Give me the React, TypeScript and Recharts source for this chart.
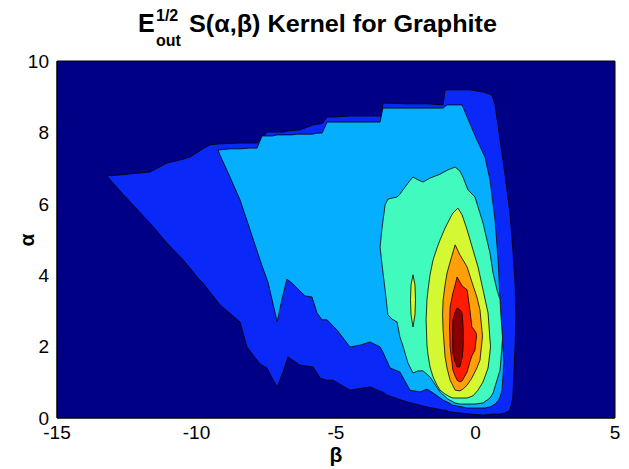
import React from 'react';
import { ComposedChart, Area, XAxis, YAxis, CartesianGrid, ReferenceArea } from 'recharts';

// Filled contour bands of the kernel, outermost first.
// Each row: [beta, alpha at lower edge, alpha at upper edge]
type Row = [number, number, number];

const band1: Row[] = [
  [-13.21, 6.78, 6.78], [-12.74, 6.36, 6.81], [-11.67, 5.46, 6.89], [-11.06, 4.9, 7.14],
  [-10.48, 4.43, 7.25], [-10.23, 4.2, 7.31], [-9.95, 3.92, 7.45], [-9.77, 3.78, 7.54],
  [-9.52, 3.53, 7.65], [-9.16, 3.17, 7.68], [-8.44, 2.69, 7.7], [-8.19, 1.99, 7.7],
  [-7.83, 1.62, 7.7], [-7.72, 1.51, 7.79], [-7.47, 1.4, 8.01], [-7.29, 1.12, 8.01],
  [-7.11, 0.87, 8.01], [-6.9, 1.29, 8.01], [-6.72, 1.71, 8.04], [-6.29, 1.48, 8.07],
  [-5.82, 1.43, 8.21], [-5.57, 1.12, 8.24], [-5.47, 1.09, 8.26], [-5.32, 1.06, 8.43],
  [-5.11, 1.06, 8.43], [-4.5, 0.78, 8.46], [-3.78, 0.87, 8.46], [-3.35, 0.73, 8.46],
  [-3.32, 0.73, 8.82], [-3.17, 0.64, 8.82], [-2.46, 0.45, 8.8], [-1.74, 0.31, 8.8],
  [-1.16, 0.22, 8.77], [-1.09, 0.22, 9.19], [-0.91, 0.17, 9.19], [-0.2, 0.11, 9.19],
  [0.27, 0.08, 9.13], [0.59, 0.11, 9.05], [0.7, 0.11, 8.77], [0.88, 0.11, 7.79],
  [1.06, 0.14, 6.81], [1.24, 0.22, 5.69], [1.34, 0.59, 4.71], [1.42, 2.04, 3.73],
  [1.45, 2.89, 2.89],
];

const band2: Row[] = [
  [-9.23, 7.51, 7.51], [-9.16, 7.37, 7.51], [-8.8, 6.75, 7.54], [-8.44, 6.11, 7.54],
  [-8.08, 5.27, 7.56], [-7.83, 4.68, 7.56], [-7.65, 4.26, 7.9], [-7.44, 3.81, 7.9],
  [-7.29, 3.31, 7.9], [-7.11, 2.69, 7.93], [-6.94, 3.31, 7.93], [-6.76, 3.89, 7.93],
  [-6.58, 3.78, 7.93], [-6.4, 3.64, 7.95], [-6.11, 3.42, 7.95], [-5.86, 3.39, 7.95],
  [-5.68, 2.94, 7.98], [-5.5, 2.75, 7.98], [-5.32, 2.75, 8.29], [-4.96, 2.46, 8.29],
  [-4.5, 1.99, 8.29], [-4.14, 2.04, 8.29], [-3.78, 2.13, 8.29], [-3.42, 1.99, 8.29],
  [-3.32, 1.85, 8.68], [-3.06, 1.4, 8.68], [-2.71, 1.29, 8.68], [-2.35, 0.78, 8.68],
  [-1.99, 0.73, 8.68], [-1.74, 0.81, 8.68], [-1.52, 0.7, 8.68], [-1.16, 0.5, 8.68],
  [-1.02, 0.45, 8.77], [-0.81, 0.36, 8.77], [-0.48, 0.31, 8.77], [-0.3, 0.28, 8.43],
  [0.05, 0.28, 7.79], [0.34, 0.28, 7.31], [0.52, 0.31, 6.67], [0.7, 0.39, 5.55],
  [0.81, 0.48, 4.43], [0.88, 0.59, 3.31], [0.95, 0.78, 2.32], [1.02, 1.57, 1.57],
];

const band3: Row[] = [
  [-3.42, 4.79, 4.79], [-3.35, 4.29, 5.32], [-3.24, 3.59, 5.97], [-3.14, 2.89, 6.13],
  [-2.99, 2.77, 6.16], [-2.81, 2.69, 6.19], [-2.71, 2.27, 6.27], [-2.6, 2.02, 6.39],
  [-2.42, 1.54, 6.58], [-2.24, 1.26, 6.75], [-2.06, 1.32, 6.67], [-1.88, 1.32, 6.61],
  [-1.63, 1.15, 6.72], [-1.27, 0.73, 6.83], [-0.99, 0.53, 6.95], [-0.73, 0.42, 7.03],
  [-0.56, 0.39, 6.92], [-0.45, 0.39, 6.75], [-0.27, 0.39, 6.39], [-0.02, 0.39, 6.19],
  [0.27, 0.42, 5.46], [0.52, 0.56, 4.62], [0.63, 0.7, 4.06], [0.77, 1.06, 3.59],
  [0.88, 1.34, 3.31], [0.91, 1.62, 2.89], [0.95, 2.04, 2.46], [0.97, 2.24, 2.24],
];

const band4: Row[] = [
  [-1.77, 2.75, 2.75], [-1.74, 2.04, 3.31], [-1.7, 1.76, 3.59], [-1.63, 1.43, 4.01],
  [-1.52, 1.15, 4.43], [-1.38, 0.92, 4.76], [-1.27, 0.78, 4.99], [-1.09, 0.67, 5.32],
  [-0.91, 0.59, 5.6], [-0.81, 0.56, 5.74], [-0.63, 0.56, 5.88], [-0.48, 0.56, 5.69],
  [-0.3, 0.56, 5.27], [-0.09, 0.62, 4.71], [0.09, 0.78, 4.23], [0.27, 1.01, 3.59],
  [0.45, 1.4, 2.94], [0.52, 1.85, 2.18], [0.54, 2.02, 2.02],
];

// small isolated island of the same level, left of the main peak
const band4Island: Row[] = [
  [-2.33, 3.31, 3.31], [-2.31, 2.89, 3.73], [-2.24, 2.55, 4.01],
  [-2.17, 2.89, 3.73], [-2.15, 3.31, 3.31],
];

const band5: Row[] = [
  [-1.18, 2.89, 2.89], [-1.16, 2.46, 3.31], [-1.09, 1.71, 3.73], [-1.02, 1.4, 4.06],
  [-0.91, 1.06, 4.37], [-0.73, 0.78, 4.85], [-0.56, 0.76, 4.57], [-0.45, 0.81, 4.43],
  [-0.3, 0.92, 4.23], [-0.13, 1.12, 3.81], [0.05, 1.4, 3.39], [0.16, 1.62, 3.03],
  [0.23, 2.13, 2.46], [0.25, 2.3, 2.3],
];

const band6: Row[] = [
  [-0.93, 2.55, 2.55], [-0.91, 1.99, 3.11], [-0.84, 1.54, 3.39], [-0.81, 1.34, 3.5],
  [-0.73, 1.18, 3.73], [-0.66, 1.06, 3.95], [-0.56, 1.01, 3.81], [-0.48, 1.04, 3.7],
  [-0.3, 1.29, 3.59], [-0.2, 1.57, 3.03], [-0.13, 1.74, 2.55], [-0.02, 1.9, 2.44],
  [0.02, 2.18, 2.38], [0.04, 2.3, 2.3],
];

const band7: Row[] = [
  [-0.82, 2.32, 2.32], [-0.81, 1.82, 2.75], [-0.73, 1.57, 2.97], [-0.66, 1.43, 3.08],
  [-0.56, 1.43, 3.03], [-0.48, 1.68, 2.94], [-0.45, 1.9, 2.61], [-0.43, 2.24, 2.24],
];

const betaTicks = [-15, -10, -5, 0, 5];
const alphaTicks = [0, 2, 4, 6, 8, 10];

const backgroundColor = '#000086';
const bands: { id: string; color: string; rows: Row[] }[] = [
  { id: 'b1', color: '#0A28F8', rows: band1 },
  { id: 'b2', color: '#05AEFF', rows: band2 },
  { id: 'b3', color: '#40FABE', rows: band3 },
  { id: 'b4', color: '#D4F832', rows: band4 },
  { id: 'b4i', color: '#D4F832', rows: band4Island },
  { id: 'b5', color: '#FFA00A', rows: band5 },
  { id: 'b6', color: '#FF1C00', rows: band6 },
  { id: 'b7', color: '#8A0000', rows: band7 },
];

const toSeries = (rows: Row[]) => rows.map(([beta, lo, hi]) => ({ beta, alpha: [lo, hi] }));

const FONT = '"Liberation Sans", Arial, Helvetica, sans-serif';
const tickStyle = { fontSize: 19, fill: '#000', fontFamily: FONT };

export default function App() {
  return (
    <ComposedChart
      width={613}
      height={461}
      margin={{ top: 53, right: 6, bottom: 0, left: 19 }}
      style={{ fontFamily: FONT }}
    >
      <CartesianGrid fill={backgroundColor} stroke="none" horizontal={false} vertical={false} />
      <XAxis
        type="number"
        dataKey="beta"
        domain={[-15, 5]}
        ticks={betaTicks}
        interval={0}
        allowDataOverflow
        height={51}
        tickLine={false}
        axisLine={{ stroke: '#000' }}
        tick={tickStyle}
      />
      <YAxis
        type="number"
        domain={[0, 10]}
        ticks={alphaTicks}
        interval={0}
        allowDataOverflow
        width={30}
        tickLine={false}
        axisLine={{ stroke: '#000' }}
        tick={tickStyle}
      />
      {bands.map((b) => (
        <Area
          key={b.id}
          data={toSeries(b.rows)}
          dataKey="alpha"
          type="linear"
          fill={b.color}
          fillOpacity={1}
          stroke="#000"
          strokeWidth={0.8}
          dot={false}
          activeDot={false}
          isAnimationActive={false}
        />
      ))}
      <ReferenceArea x1={-15} x2={5} y1={0} y2={10} fill="none" stroke="#000" strokeWidth={1} />
      <text x={130} y={24} fontSize={25} fontWeight="bold" fontFamily={FONT} fill="#000">E</text>
      <text x={148} y={13} fontSize={16} fontWeight="bold" fontFamily={FONT} fill="#000">1/2</text>
      <text x={148} y={38} fontSize={16} fontWeight="bold" fontFamily={FONT} fill="#000">out</text>
      <text
        x={181}
        y={24}
        fontSize={24}
        fontWeight="bold"
        fontFamily={FONT}
        fill="#000"
        textLength={308}
        lengthAdjust="spacingAndGlyphs"
      >
        S(α,β) Kernel for Graphite
      </text>
      <text x={328} y={454} textAnchor="middle" fontSize={21} fontWeight="bold" fontFamily={FONT} fill="#000">β</text>
      <text
        x={26}
        y={232}
        textAnchor="middle"
        fontSize={21}
        fontWeight="bold"
        fontFamily={FONT}
        fill="#000"
        transform="rotate(-90 26 232)"
      >
        α
      </text>
    </ComposedChart>
  );
}
